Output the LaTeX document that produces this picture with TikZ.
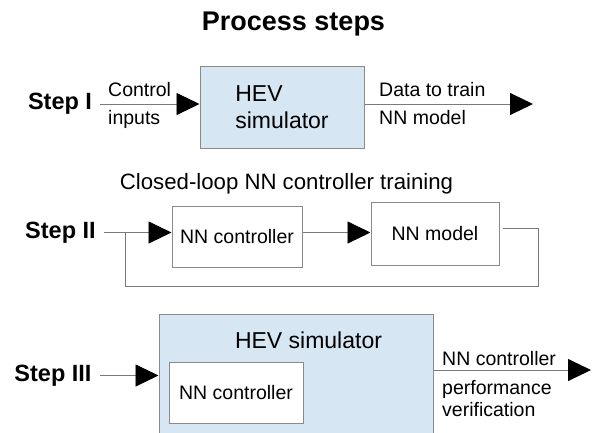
\documentclass[tikz,border=0pt]{standalone}
\usepackage{fontspec}
\setmainfont{Liberation Sans}
\usetikzlibrary{arrows.meta, positioning}
\definecolor{simBlue}{HTML}{D7E6F3}
\definecolor{edgeGray}{HTML}{8A8A8A}
\definecolor{wireGray}{HTML}{7A7A7A}
\newcommand{\smallfont}{\fontsize{19.5}{22}\selectfont}
\newcommand{\midfont}{\fontsize{23}{27}\selectfont}

\begin{document}
\begin{tikzpicture}[x=1pt, y=-1pt,
    block/.style={draw=edgeGray, line width=1pt, inner sep=0pt, font=\smallfont},
    sim/.style={block, fill=simBlue, font=\midfont},
    steplabel/.style={font=\fontsize{23.5}{27}\selectfont\bfseries, inner sep=0pt, inner xsep=8pt},
    wire/.style={draw=wireGray, line width=0.9pt},
    flow/.style={wire, -{Triangle[length=23pt, width=22pt, color=black]}},
    txt/.style={font=\smallfont, inner sep=0pt, anchor=base west}]
\useasboundingbox (0,0) rectangle (596,432);

% Title
\node[font=\fontsize{27}{30}\selectfont\bfseries] (title) at (293.5,24) {Process steps};

% Step I
\node[steplabel] (stepI) at (60,104) {Step I};
\node[sim, minimum width=164pt, minimum height=82pt, align=left] (simI) at (282,107) {HEV\\simulator};
\coordinate (outI) at (533,104);
\draw[flow] (stepI.east) -- (stepI.east -| simI.west);
\draw[flow] (simI.east |- outI) -- (outI);
\node[txt] (ctrlIn) at (108,96) {Control};
\node[txt] (ctrlIn2) at (108,124) {inputs};
\node[txt] (dataOut) at (379,96) {Data to train};
\node[txt] (dataOut2) at (379,124) {NN model};

% Step II
\node[font=\fontsize{22.2}{26}\selectfont] (loopTitle) at (286.5,184) {Closed-loop NN controller training};
\node[steplabel] (stepII) at (60.5,232.5) {Step II};
\node[block, minimum width=130pt, minimum height=61pt] (ctrlII) at (237,236.5) {NN controller};
\node[block, minimum width=128pt, minimum height=63pt] (modelII) at (435,233.5) {NN model};
\coordinate (fbR) at (538,286);
\coordinate (fbL) at (125,286);
\draw[flow] (stepII.east) -- (stepII.east -| ctrlII.west);
\draw[flow] (ctrlII.east |- stepII.east) -- (modelII.west |- stepII.east);
% feedback loop
\draw[wire] ([xshift=3pt, yshift=5pt]modelII.east) -| (fbR) -- (fbL) -- (fbL |- stepII.east);

% Step III
\node[sim, minimum width=274pt, minimum height=146pt] (simIII) at (296,387) {};
\node[font=\midfont] (simIIItxt) at (308.5,340) {HEV simulator};
\node[block, fill=white, minimum width=134pt, minimum height=61pt] (ctrlIII) at (236,392.5) {NN controller};
\node[steplabel] (stepIII) at (53,375.5) {Step III};
\coordinate (outIII) at (591,370);
\draw[flow] (stepIII.east) -- (stepIII.east -| simIII.west);
\draw[flow] (simIII.east |- outIII) -- (outIII);
\node[txt] (verif) at (442,365) {NN controller};
\node[txt] (verif2) at (442,394) {performance};
\node[txt] (verif3) at (442,416) {verification};
\end{tikzpicture}
\end{document}
